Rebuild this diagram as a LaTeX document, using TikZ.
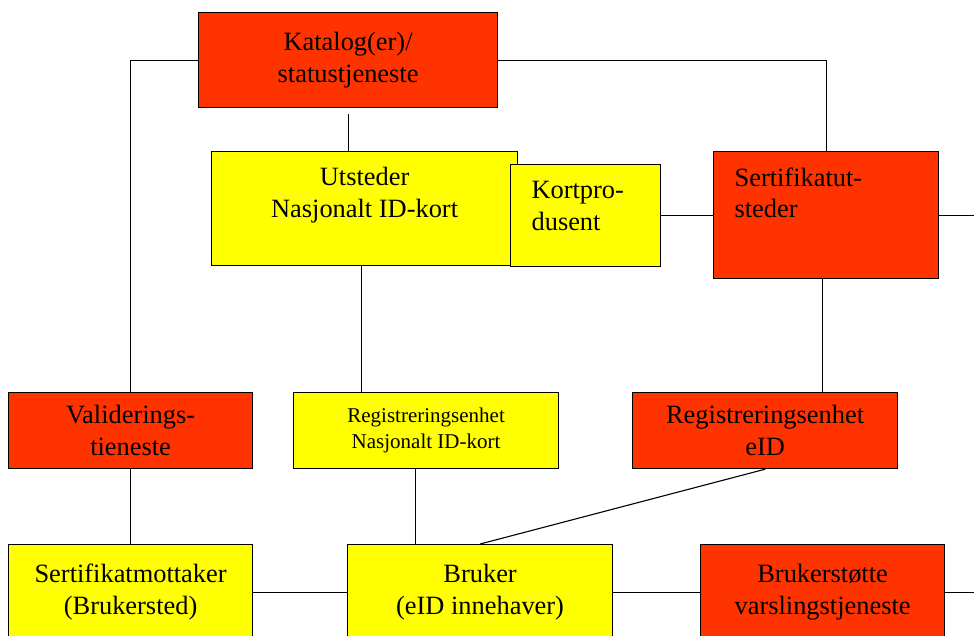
\documentclass[tikz,border=0pt]{standalone}
\usepackage{fontspec}
\setmainfont{Liberation Serif}

\definecolor{redc}{HTML}{FF3300}
\definecolor{yelc}{HTML}{FFFF00}

% fixed-size box content: width, height, vertical alignment, text
\newcommand\bxc[4]{\parbox[c][#2][#3]{#1}{#4}}

\tikzset{
  box/.style={draw=black, line width=1.2pt, inner sep=0pt, anchor=north west,
    font=\fontsize{26.4}{31.5}\selectfont},
  redbox/.style={box, fill=redc},
  yelbox/.style={box, fill=yelc},
  smalltext/.style={font=\fontsize{21}{26}\selectfont},
  link/.style={draw=black, line width=1.1pt}
}

\begin{document}
\begin{tikzpicture}[x=1pt, y=-1pt]
\clip (0,0) rectangle (974,635);
\fill[white] (0,0) rectangle (974,635);

% top row
\node[redbox] (kat) at (198,12)
  {\bxc{299pt}{95pt}{c}{\centering Katalog(er)/\\statustjeneste}};

% middle row
\node[yelbox] (uts) at (211,151)
  {\bxc{306pt}{114pt}{t}{\vspace*{16pt}\centering Utsteder\\Nasjonalt ID-kort}};
\node[yelbox] (kort) at (510,164)
  {\bxc{150pt}{102pt}{t}{\vspace*{17pt}\raggedright\leftskip=21pt Kortpro-\\dusent}};
\node[redbox] (sert) at (713,151)
  {\bxc{225pt}{127pt}{t}{\vspace*{16pt}\raggedright\leftskip=21pt Sertifikatut-\\steder}};

% registration / validation row
\node[redbox] (val) at (8,392)
  {\bxc{244pt}{76pt}{c}{\centering Validerings-\\tieneste}};
\node[yelbox, smalltext] (regn) at (293,392)
  {\bxc{265pt}{76pt}{c}{\centering Registreringsenhet\\Nasjonalt ID-kort}};
\node[redbox] (reid) at (632,392)
  {\bxc{265pt}{76pt}{c}{\centering Registreringsenhet\\eID}};

% bottom row
\node[yelbox] (smot) at (8,544)
  {\bxc{244pt}{95pt}{c}{\centering Sertifikatmottaker\\(Brukersted)}};
\node[yelbox] (bruk) at (347,544)
  {\bxc{265pt}{95pt}{c}{\centering Bruker\\(eID innehaver)}};
\node[redbox] (bst) at (700,544)
  {\bxc{244pt}{95pt}{c}{\centering Brukerstøtte\\varslingstjeneste}};

% right edge for connectors leaving the picture
\coordinate (redge) at (974,0);

% connectors
\draw[link] (kat.west) -| (val.north);
\draw[link] (kat.east) -| (sert.north);
\draw[link] ([yshift=-6pt]kat.south) -- (kat.south |- uts.north);
\draw[link] ([xshift=-3pt]uts.south) -- ([xshift=-3pt]uts.south |- regn.north);
\draw[link] (kort.east) -- (kort.east -| sert.west);
\draw[link] (sert.east) -- (sert.east -| redge);
\draw[link] ([xshift=-3.5pt]sert.south) -- ([xshift=-3.5pt]sert.south |- reid.north);
\draw[link] (val.south) -- (smot.north);
\draw[link] ([xshift=-10.5pt]regn.south) -- ([xshift=-10.5pt]regn.south |- bruk.north);
\draw[link] (reid.south) -- (bruk.north);
\draw[link] (smot.east) -- (bruk.west);
\draw[link] (bruk.east) -- (bst.west);
\draw[link] (bst.east) -- (bst.east -| redge);
\end{tikzpicture}
\end{document}
